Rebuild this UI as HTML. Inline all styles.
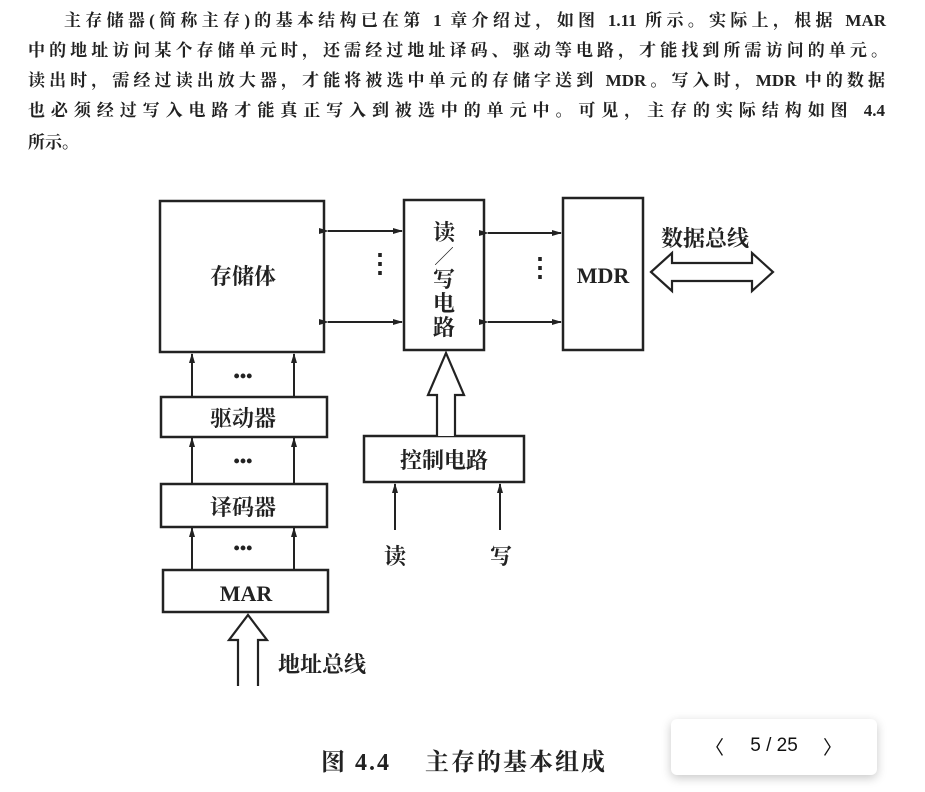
<!DOCTYPE html>
<html><head><meta charset="utf-8"><style>
html,body{margin:0;padding:0;background:#fff;width:925px;height:792px;overflow:hidden}
.p{position:absolute;left:28px;width:857px;font-family:"Liberation Serif","Noto Serif CJK SC",serif;font-weight:bold;font-size:17px;color:#222;white-space:nowrap;text-align:justify;text-align-last:justify}
</style></head><body>
<div class="p" style="top:6px;left:64px;width:822px">主存储器(简称主存)的基本结构已在第 1 章介绍过，如图 1.11 所示。实际上，根据 MAR</div>
<div class="p" style="top:36px;width:860px">中的地址访问某个存储单元时，还需经过地址译码、驱动等电路，才能找到所需访问的单元。</div>
<div class="p" style="top:66px">读出时，需经过读出放大器，才能将被选中单元的存储字送到 MDR。写入时，MDR 中的数据</div>
<div class="p" style="top:96px">也必须经过写入电路才能真正写入到被选中的单元中。可见，主存的实际结构如图 4.4</div>
<div class="p" style="top:128px;text-align-last:left">所示。</div>
<svg width="925" height="792" style="position:absolute;left:0;top:0" font-family="Liberation Serif,Noto Serif CJK SC,serif" font-weight="bold" fill="#222">
<defs><marker id="a" markerWidth="10" markerHeight="8" refX="9" refY="4" orient="auto" markerUnits="userSpaceOnUse"><path d="M0,1 L10,4 L0,7z" fill="#222"/></marker></defs>
<g stroke="#222" stroke-width="2.5" fill="none">
<rect x="160" y="201" width="164" height="151"/>
<rect x="404" y="200" width="80" height="150"/>
<rect x="563" y="198" width="80" height="152"/>
<rect x="161" y="397" width="166" height="40"/>
<rect x="161" y="484" width="166" height="43"/>
<rect x="163" y="570" width="165" height="42"/>
<rect x="364" y="436" width="160" height="46"/>
</g>
<g stroke="#222" stroke-width="2" marker-end="url(#a)" marker-start="url(#a)">
<line x1="328" y1="231" x2="402" y2="231"/>
<line x1="328" y1="322" x2="402" y2="322"/>
<line x1="488" y1="233" x2="561" y2="233"/>
<line x1="488" y1="322" x2="561" y2="322"/>
</g>
<g stroke="#222" stroke-width="2" marker-end="url(#a)">
<line x1="192" y1="397" x2="192" y2="354"/><line x1="294" y1="397" x2="294" y2="354"/>
<line x1="192" y1="484" x2="192" y2="438"/><line x1="294" y1="484" x2="294" y2="438"/>
<line x1="192" y1="570" x2="192" y2="528"/><line x1="294" y1="570" x2="294" y2="528"/>
<line x1="395" y1="530" x2="395" y2="484"/><line x1="500" y1="530" x2="500" y2="484"/>
</g>
<g stroke="#222" stroke-width="2.2" fill="#fff">
<path d="M437,436 V395 H428 L446,353 L464,395 H455 V436"/>
<path d="M238,686 V640 H229 L248,615 L267,640 H258 V686"/>
<path d="M651,272 L672,253 V263 H752 V253 L773,272 L752,291 V281 H672 V291 Z"/>
</g>
<g font-size="22" text-anchor="middle">
<text x="380" y="272" font-size="26">⋮</text><text x="540" y="276" font-size="26">⋮</text>
<text x="243" y="382" font-size="18">•••</text><text x="243" y="467" font-size="18">•••</text><text x="243" y="554" font-size="18">•••</text>
<text x="243" y="284">存储体</text>
<text x="444" y="240">读</text><text x="444" y="263" font-size="18">╱</text><text x="444" y="287">写</text><text x="444" y="311">电</text><text x="444" y="335">路</text>
<text x="603" y="283">MDR</text>
<text x="705" y="246">数据总线</text>
<text x="243" y="426">驱动器</text>
<text x="243" y="515">译码器</text>
<text x="246" y="601">MAR</text>
<text x="444" y="468">控制电路</text>
<text x="395" y="564">读</text><text x="501" y="564">写</text>
<text x="322" y="672">地址总线</text>
<text x="464" y="770" font-size="24" letter-spacing="2">图 4.4　 主存的基本组成</text>
</g>
</svg>
<div style="position:absolute;left:671px;top:719px;width:206px;height:56px;background:#fff;border-radius:6px;box-shadow:0 3px 10px rgba(0,0,0,0.22);font-family:'Liberation Sans',sans-serif;font-size:19px;color:#111">
<span style="position:absolute;left:34px;top:14px">〈</span>
<span style="position:absolute;left:0;width:206px;text-align:center;top:16px">5 / 25</span>
<span style="position:absolute;left:152px;top:14px">〉</span>
</div>
</body></html>
